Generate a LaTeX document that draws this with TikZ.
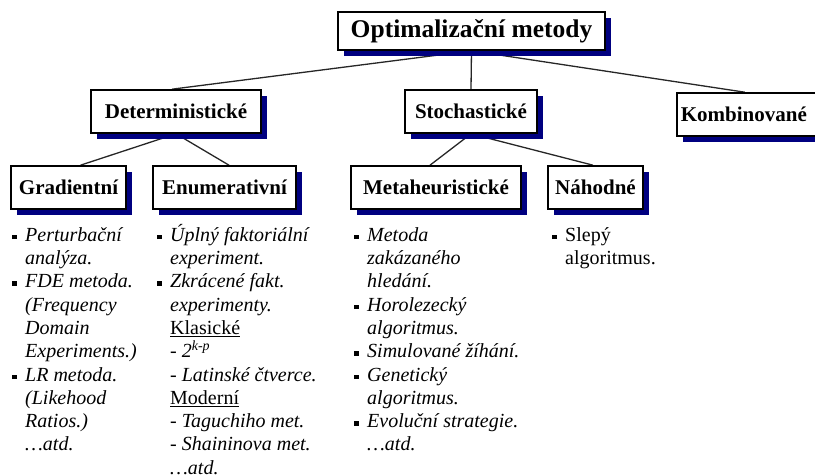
\documentclass[tikz,border=0pt]{standalone}
\usepackage{fontspec}
\setmainfont{Liberation Serif}
\usetikzlibrary{shadows,backgrounds}
\definecolor{shadownavy}{RGB}{0,0,128}
% square bullet hanging to the left of the item text
\newcommand\sqbul{\makebox[0pt][r]{\rule[2pt]{4.5pt}{4.5pt}\hspace{8.5pt}}}
\begin{document}
\begin{tikzpicture}[x=1pt,y=-1pt,
  catbox/.style={draw=black, line width=1.6pt, fill=white, inner sep=0pt,
    minimum height=43pt, font=\fontsize{21}{24}\selectfont\bfseries,
    drop shadow={shadow xshift=6pt, shadow yshift=-6pt, fill=shadownavy, opacity=1}},
  link/.style={draw=black!85, line width=1.3pt},
  itemlist/.style={anchor=north west, inner sep=0pt, align=left,
    font=\fontsize{20}{23.3}\selectfont\itshape}]
\useasboundingbox (0,0) rectangle (815,476);
\clip (0,0) rectangle (815,476);

% tree of categories
\node[catbox, minimum width=267pt, minimum height=38pt,
      font=\fontsize{25.5}{28}\selectfont\bfseries] (root) at (471.5,31) {Optimalizační metody};
\node[catbox, minimum width=170pt] (det) at (176,111.5) {Deterministické};
\node[catbox, minimum width=132pt] (sto) at (471,111.5) {Stochastické};
\node[catbox, anchor=west, text width=152pt, inner xsep=4pt, align=left] (komb) at (676,114.5) {Kombinované};
\node[catbox, minimum width=115pt] (grad) at (68.5,187.5) {Gradientní};
\node[catbox, minimum width=143pt] (enum) at (224.5,187.5) {Enumerativní};
\node[catbox, minimum width=170pt] (meta) at (436,187.5) {Metaheuristické};
\node[catbox, minimum width=95pt] (nah) at (595.5,187.5) {Náhodné};

\begin{scope}[on background layer]
  \draw[link] (root.south) -- ([xshift=-4pt]det.north);
  \draw[link] (root.south) -- (sto.north);
  \draw[link] (root.south) -- ([xshift=-12pt]komb.north);
  \draw[link] (det.south) -- ([xshift=12pt]grad.north);
  \draw[link] (det.south) -- ([xshift=4.5pt]enum.north);
  \draw[link] (sto.south) -- ([xshift=-6pt]meta.north);
  \draw[link] (sto.south) -- ([xshift=-2.5pt]nah.north);
\end{scope}

% method lists under the leaf categories (first baseline at y = 241)
\node[itemlist] (gradlist) at (25,224.7) {\strut\sqbul Perturbační\\ analýza.\\ \sqbul FDE metoda.\\ (Frequency\\ Domain\\ Experiments.)\\ \sqbul LR metoda.\\ (Likehood\\ Ratios.)\\ \ldots{}atd.};
\node[itemlist] (enumlist) at (170,224.7) {\strut\sqbul \smash{Úplný faktoriální}\\ experiment.\\ \sqbul Zkrácené fakt.\\ experimenty.\\ {\upshape\underline{Klasické}}\\ - 2\textsuperscript{k-p}\\ - Latinské čtverce.\\ {\upshape\underline{Moderní}}\\ - Taguchiho met.\\ - Shaininova met.\\ \ldots{}atd.};
\node[itemlist] (metalist) at (367,224.7) {\strut\sqbul Metoda\\ zakázaného\\ hledání.\\ \sqbul Horolezecký\\ algoritmus.\\ \sqbul Simulované žíhání.\\ \sqbul Genetický\\ algoritmus.\\ \sqbul Evoluční strategie.\\ \ldots{}atd.};
\node[itemlist, font=\fontsize{20}{23.3}\selectfont\upshape] (nahlist) at (565,224.7) {\strut\sqbul Slepý\\ algoritmus.};
\end{tikzpicture}
\end{document}
